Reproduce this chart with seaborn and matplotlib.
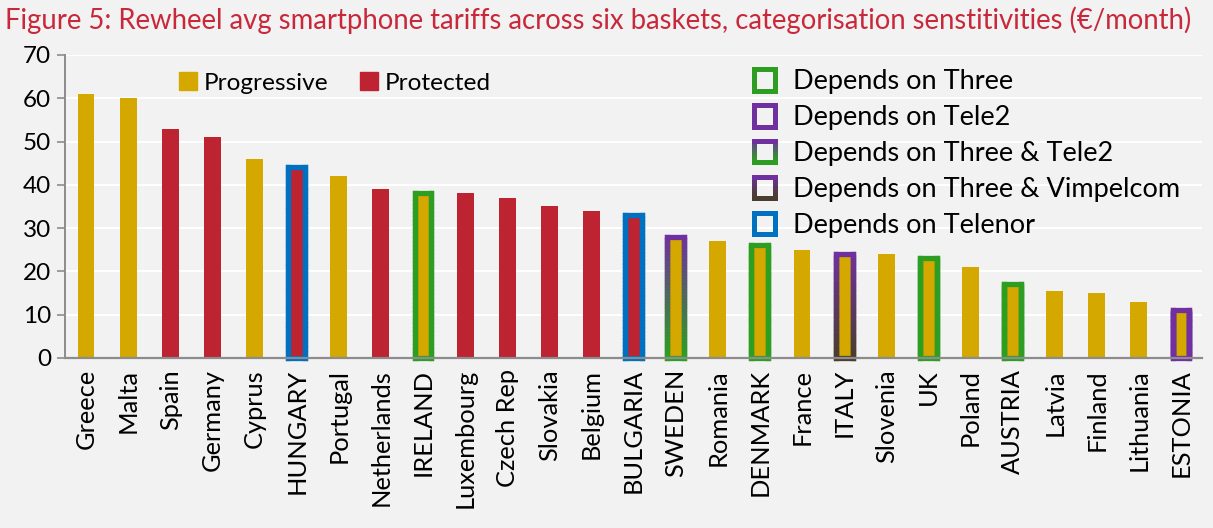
import matplotlib
matplotlib.use('Agg')
import matplotlib.pyplot as plt
import numpy as np
import pandas as pd
import seaborn as sns
from matplotlib.patches import Patch
from matplotlib.collections import LineCollection
from matplotlib.legend_handler import HandlerBase
from matplotlib.colors import to_rgb

# values (EUR/month)
countries = ['Greece', 'Malta', 'Spain', 'Germany', 'Cyprus', 'HUNGARY', 'Portugal',
             'Netherlands', 'IRELAND', 'Luxembourg', 'Czech Rep', 'Slovakia', 'Belgium',
             'BULGARIA', 'SWEDEN', 'Romania', 'DENMARK', 'France', 'ITALY', 'Slovenia',
             'UK', 'Poland', 'AUSTRIA', 'Latvia', 'Finland', 'Lithuania', 'ESTONIA']
tariffs = [61, 60, 53, 51, 46, 44, 42, 39, 38, 38, 37, 35, 34, 33, 28, 27, 26,
           25, 24, 24, 23, 21, 17, 15.5, 15, 13, 11]
group = ['Progressive', 'Progressive', 'Protected', 'Protected', 'Progressive', 'Protected',
         'Progressive', 'Protected', 'Progressive', 'Protected', 'Protected', 'Protected',
         'Protected', 'Protected', 'Progressive', 'Progressive', 'Progressive', 'Progressive',
         'Progressive', 'Progressive', 'Progressive', 'Progressive', 'Progressive',
         'Progressive', 'Progressive', 'Progressive', 'Progressive']
depends = ['', '', '', '', '', 'Telenor', '', '', 'Three', '', '', '', '', 'Telenor',
           'Three & Tele2', '', 'Three', '', 'Three & Vimpelcom', '', 'Three', '', 'Three',
           '', '', '', 'Tele2']

GOLD = '#D5A800'
RED = '#BD2330'
GREEN = '#2E9E23'
PURPLE = '#7030A0'
BLUE = '#0070C0'
BROWN = '#4A3E30'
BG = '#F2F2F2'

# top colour, bottom colour of each outline
outline = {'Three': (GREEN, GREEN),
           'Tele2': (PURPLE, PURPLE),
           'Three & Tele2': (PURPLE, GREEN),
           'Three & Vimpelcom': (PURPLE, BROWN),
           'Telenor': (BLUE, BLUE)}

df = pd.DataFrame({'country': countries, 'tariff': tariffs, 'group': group, 'depends': depends})

plt.rcParams['font.family'] = ['Lato', 'DejaVu Sans']

fig = plt.figure(figsize=(12.13, 5.28), dpi=100, facecolor=BG)
ax = fig.add_axes([0.0536, 0.322, 0.9374, 0.574])
ax.set_facecolor(BG)

sns.barplot(data=df, x='country', y='tariff', hue='group', dodge=False, width=0.4,
            palette={'Progressive': GOLD, 'Protected': RED}, saturation=1, ax=ax,
            legend=False)


def blend(c1, c2, t):
    a, b = np.array(to_rgb(c1)), np.array(to_rgb(c2))
    return tuple((1 - t) * a + t * b)


def gradient_outline(x0, x1, y0, y1, ctop, cbot, lw, transform=None, n=40):
    ys = np.linspace(y1, y0, n + 1)
    segs, cols = [], []
    for x in (x0, x1):
        for i in range(n):
            segs.append([(x, ys[i]), (x, ys[i + 1])])
            cols.append(blend(ctop, cbot, (i + 0.5) / n))
    kw = {} if transform is None else {'transform': transform}
    lc = LineCollection(segs, colors=cols, linewidths=lw, capstyle='projecting', **kw)
    lc.set_clip_on(False)
    arts = [lc]
    for y, c in ((y1, ctop), (y0, cbot)):
        lc2 = LineCollection([[(x0, y), (x1, y)]], colors=[c], linewidths=lw,
                             capstyle='projecting', **kw)
        lc2.set_clip_on(False)
        arts.append(lc2)
    return arts


# outline the bars that depend on a given operator
for p in list(ax.patches):
    if p.get_height() <= 0:
        continue
    idx = int(round(p.get_x() + p.get_width() / 2))
    dep = depends[idx]
    if not dep:
        continue
    ctop, cbot = outline[dep]
    x0, x1 = p.get_x(), p.get_x() + p.get_width()
    for a in gradient_outline(x0, x1, 0, p.get_height(), ctop, cbot, lw=3.8):
        a.set_zorder(3)
        ax.add_collection(a)

ax.set_xlim(-0.5, len(countries) - 0.5)
ax.set_ylim(0, 70)
ax.set_yticks(range(0, 71, 10))
ax.grid(axis='y', color='white', linewidth=1.5)
ax.set_axisbelow(True)
for s in ['top', 'right']:
    ax.spines[s].set_visible(False)
ax.spines['left'].set_color('#8C8C8C')
ax.spines['bottom'].set_color('#8C8C8C')
ax.spines['left'].set_linewidth(1.4)
ax.spines['bottom'].set_linewidth(1.6)
ax.spines['bottom'].set_zorder(4)
ax.tick_params(axis='y', length=6, width=1.2, color='#8C8C8C', labelsize=17.5, pad=4)
ax.tick_params(axis='x', length=0, labelsize=18.3, pad=8)
plt.setp(ax.get_xticklabels(), rotation=90)
ax.set_xlabel('')
ax.set_ylabel('')


class HandlerOutline(HandlerBase):
    def create_artists(self, legend, orig_handle, xdescent, ydescent, width, height,
                       fontsize, trans):
        ctop, cbot = outline[orig_handle.get_label().replace('Depends on ', '')]
        side = height * 0.95
        x0 = -xdescent + (width - side) / 2
        y0 = -ydescent + (height - side) / 2
        return gradient_outline(x0, x0 + side, y0, y0 + side, ctop, cbot,
                                lw=3.6, transform=trans, n=12)


leg1 = ax.legend(handles=[Patch(color=GOLD, label='Progressive'),
                          Patch(color=RED, label='Protected')],
                 ncol=2, loc='upper left', bbox_to_anchor=(0.081, 1.015), frameon=False,
                 fontsize=17.6, handlelength=0.75, handleheight=0.75, handletextpad=0.25,
                 columnspacing=1.3)
ax.add_artist(leg1)

dep_handles = [Patch(label='Depends on ' + k) for k in outline]
ax.legend(handles=dep_handles, handler_map={Patch: HandlerOutline()},
          loc='upper left', bbox_to_anchor=(0.595, 0.99), frameon=False, fontsize=19.5,
          handlelength=0.9, handleheight=0.9, handletextpad=0.6, labelspacing=0.38,
          borderaxespad=0)

fig.text(0.004, 0.962, 'Figure 5: Rewheel avg smartphone tariffs across six baskets, '
         'categorisation senstitivities (\u20ac/month)', color='#C8283A', fontsize=19.85,
         va='center', ha='left')

fig.savefig('out.png', dpi=100, facecolor=BG)
